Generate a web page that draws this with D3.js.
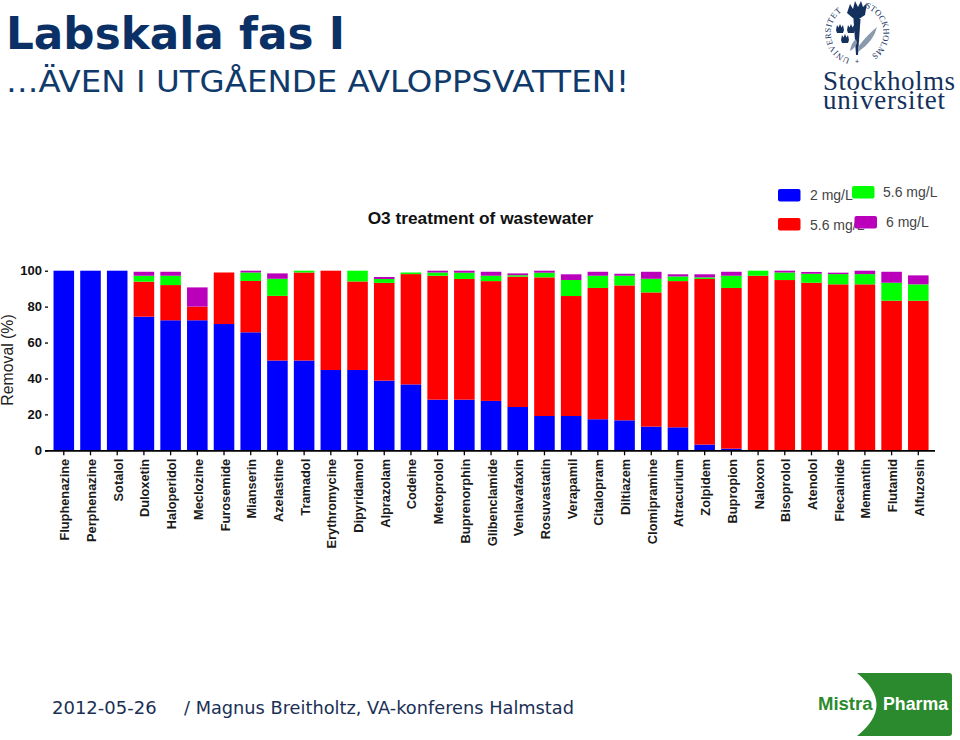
<!DOCTYPE html>
<html><head><meta charset="utf-8">
<script src="https://cdn.jsdelivr.net/npm/d3@7"></script>
<style>
html,body{margin:0;padding:0;background:#fff}
svg{display:block}
text{font-family:"Liberation Sans",Arial,sans-serif}
</style></head><body>
<svg id="c" width="960" height="740"></svg>
<script>
const categories = ["Fluphenazine","Perphenazine","Sotalol","Duloxetin","Haloperidol","Meclozine","Furosemide","Mianserin","Azelastine","Tramadol","Erythromycine","Dipyridamol","Alprazolam","Codeine","Metoprolol","Buprenorphin","Glibenclamide","Venlavafaxin","Rosuvastatin","Verapamil","Citalopram","Diltiazem","Clomipramine","Atracurium","Zolpidem","Bupropion","Naloxon","Bisoprolol","Atenolol","Flecainide","Memantin","Flutamid","Alfuzosin"];
const dose2 = [100,100,100,74.4,72.4,72.4,70.3,65.7,50,50,44.7,44.7,38.8,36.7,28.2,28.2,27.5,24.1,19.1,19.1,17.3,16.7,13.2,12.8,3.2,0.9,0,0,0,0,0,0,0];
const dose56a = [0,0,0,19.5,19.6,7.6,28.7,28.6,36,49,55.3,49.3,54.4,61.4,69,67.2,66.7,72.6,77.2,66.8,73.1,75.1,74.7,81.4,92.2,89.5,97.2,94.8,93.3,92.4,92.4,83.3,83.3];
const dose56b = [0,0,0,3.3,5.2,0,0,4.7,9.5,1,0,6,2.2,0.9,1.8,3.5,3,0.8,2.6,8.9,6.8,5.4,7.6,2.6,0.9,6.8,2.8,4.2,5,5.7,5.7,10,9.1];
const dose6 = [0,0,0,2.2,2.2,10.7,0,1,3,0,0,0,1.1,0,1,1.1,2.2,1,1.1,3.2,2.2,1.1,3.9,1.2,1.7,2.2,0,1,1,0.8,1.9,6.1,5];
const yTicks = [0,20,40,60,80,100];
const seriesKeys = ["a","b","c","d"];
const seriesColors = ["#0000ff","#ff0000","#00ff00","#bb00bb"];
const legendLabels = ["2 mg/L","5.6 mg/L","5.6 mg/L","6 mg/L"];

const svg = d3.select("#c");
const rows = categories.map((name,i)=>({name,a:dose2[i],b:dose56a[i],c:dose56b[i],d:dose6[i]}));
const stacked = d3.stack().keys(seriesKeys)(rows);
const x = d3.scaleBand().domain(categories).range([50.45,931.65]).paddingInner(0.23).paddingOuter(0.115);
const y = d3.scaleLinear().domain([0,100]).range([450.3,270.7]);

// Header
svg.append("text").attr("x",6).attr("y",49).attr("font-size",44).attr("font-weight","bold").attr("fill","#0b3066").style("font-family","DejaVu Sans").attr("textLength",339).attr("lengthAdjust","spacingAndGlyphs").text("Labskala fas I");
svg.append("text").attr("x",6).attr("y",92.3).attr("font-size",30.5).attr("fill","#0f3a6b").style("font-family","DejaVu Sans").attr("textLength",623).attr("lengthAdjust","spacingAndGlyphs").text("…ÄVEN I UTGÅENDE AVLOPPSVATTEN!");

// Bars
svg.append("g").selectAll("g").data(stacked).join("g").attr("fill",(d,i)=>seriesColors[i])
 .selectAll("rect").data(d=>d.filter(s=>s[1]>s[0])).join("rect")
 .attr("x",d=>x(d.data.name)).attr("width",x.bandwidth()).attr("y",d=>y(d[1])).attr("height",d=>y(d[0])-y(d[1]));

// Axes
const gx = svg.append("g").attr("transform","translate(0,"+y(0)+")").call(d3.axisBottom(x).tickSize(5).tickSizeOuter(0));
gx.select(".domain").remove();
svg.append("line").attr("x1",45).attr("x2",935).attr("y1",y(0)+0.6).attr("y2",y(0)+0.6).attr("stroke","#000").attr("stroke-width",1.6);
gx.selectAll("line").attr("stroke","#000").attr("stroke-width",1.3);
gx.selectAll("text").attr("transform","rotate(-90)").attr("text-anchor","end").attr("x",-8.5).attr("y",1).attr("dy","0.35em").attr("font-size",12.8).attr("font-weight","bold").attr("fill","#1a1a1a").style("font-family","Liberation Sans");
const gy = svg.append("g").attr("transform","translate(48,0)").call(d3.axisLeft(y).tickValues(yTicks).tickSize(3));
gy.select(".domain").remove();
gy.selectAll("line").attr("stroke","#000").attr("stroke-width",1.3);
gy.selectAll("text").attr("font-size",13).attr("font-weight","bold").attr("fill","#111").style("font-family","Liberation Sans");
svg.append("text").attr("transform","translate(13,360) rotate(-90)").attr("text-anchor","middle").attr("font-size",15.8).attr("fill","#222").text("Removal (%)");
svg.append("text").attr("x",480.5).attr("y",224).attr("text-anchor","middle").attr("font-size",17.3).attr("font-weight","bold").attr("fill","#111").text("O3 treatment of wastewater");

// Legend (drawn in slide order so the swatches sit over neighbouring text)
const lg = svg.append("g");
const legendItems = [
 {i:0,rx:778,ry:189,tx:810,ty:200},
 {i:1,rx:778,ry:218,tx:810,ty:230},
 {i:2,rx:852,ry:186,tx:883,ty:197},
 {i:3,rx:854.5,ry:216,tx:886,ty:227}
];
legendItems.forEach(p=>{
  lg.append("text").attr("x",p.tx).attr("y",p.ty).attr("font-size",14).attr("fill","#444").text(legendLabels[p.i]);
});
legendItems.forEach(p=>{
  lg.append("rect").attr("x",p.rx).attr("y",p.ry).attr("width",22.5).attr("height",12.5).attr("rx",2).attr("fill",seriesColors[p.i]);
});

// Footer
const footC="#1a2f55";
svg.append("text").attr("x",52).attr("y",714).attr("font-size",18).attr("fill",footC).style("font-family","DejaVu Sans").text("2012-05-26");
svg.append("text").attr("x",184).attr("y",714).attr("font-size",18).attr("fill",footC).style("font-family","DejaVu Sans").attr("textLength",390).attr("lengthAdjust","spacingAndGlyphs").text("/ Magnus Breitholtz, VA-konferens Halmstad");

// Stockholm University logo
const su = svg.append("g");
const navy="#14305c";
su.append("text").attr("x",823).attr("y",90).attr("font-size",27).attr("fill",navy).style("font-family","Liberation Serif").attr("textLength",132).text("Stockholms");
su.append("text").attr("x",823).attr("y",109).attr("font-size",27).attr("fill",navy).style("font-family","Liberation Serif").attr("textLength",122).text("universitet");
const seal = su.append("g").attr("transform","translate(857,33)");
seal.append("path").attr("id","arcL").attr("d","M -5,26 A 26.5,26.5 0 0 1 -7,-25.5").attr("fill","none");
seal.append("path").attr("id","arcR").attr("d","M 5,-26 A 26.5,26.5 0 0 1 6,25.8").attr("fill","none");
seal.append("text").attr("font-size",8.5).attr("fill",navy).style("font-family","Liberation Serif").append("textPath").attr("href","#arcL").attr("startOffset",2).text("UNIVERSITET").attr("letter-spacing",0.4);
seal.append("text").attr("font-size",8.5).attr("fill",navy).style("font-family","Liberation Serif").append("textPath").attr("href","#arcR").attr("startOffset",3).text("STOCKHOLMS").attr("letter-spacing",0.2);
seal.append("text").attr("x",0).attr("y",31).attr("text-anchor","middle").attr("font-size",7).attr("fill",navy).text("+");
seal.append("path").attr("d","M-3.5,-14 L3.5,-14 L1,22 L-1,22 Z").attr("fill",navy);
seal.append("path").attr("d","M-10,-20 L-7,-29 L-4,-24 L-2,-32 L1,-26 L4,-32 L6,-26 L10,-30 L8,-18 L2,-14 L-3,-14 Z").attr("fill",navy);
seal.append("path").attr("d","M1,14 Q10,2 20,-6 Q17,8 1,19 Z").attr("fill","#8b99ad");
seal.append("path").attr("d","M-1,6 Q-6,10 -7,18 Q-2,15 0,10 Z").attr("fill","#8b99ad");
const crown="M0,0 L1,-5 L2.5,-2.5 L4,-6 L5.5,-2.5 L7,-5 L8,0 L7,3 L1,3 Z";
[[-21,-3],[-10,-3],[-16,7]].forEach(p=>seal.append("path").attr("transform","translate("+p+")").attr("d",crown).attr("fill",navy));

// MistraPharma logo
const mp = svg.append("g");
const gr="#2b8a2d";
mp.append("path").attr("d","M857,673 H949 Q952,673 952,676 V733 Q952,736 949,736 H857 Q896,705 857,673 Z").attr("fill",gr);
mp.append("text").attr("x",818).attr("y",710).attr("font-size",18.5).attr("font-weight","bold").attr("fill",gr).style("font-family","Liberation Sans").text("Mistra");
mp.append("text").attr("x",883).attr("y",710).attr("font-size",18.5).attr("font-weight","bold").attr("fill","#fff").style("font-family","Liberation Sans").attr("textLength",65).attr("lengthAdjust","spacingAndGlyphs").text("Pharma");
</script>
</body></html>
